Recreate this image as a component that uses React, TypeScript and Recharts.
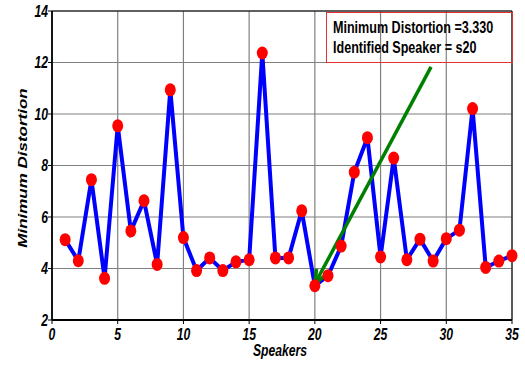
import { CartesianGrid, Label, Line, LineChart, ReferenceArea, ReferenceLine, XAxis, YAxis } from "recharts";

// speaker index and the minimum distortion measured against each model
const speakers = [1, 2, 3, 4, 5, 6, 7, 8, 9, 10, 11, 12, 13, 14, 15, 16, 17, 18, 19, 20, 21, 22, 23, 24, 25, 26, 27, 28, 29, 30, 31, 32, 33, 34, 35];
const distortion = [5.12, 4.3, 7.45, 3.62, 9.54, 5.46, 6.63, 4.16, 10.94, 5.2, 3.92, 4.41, 3.92, 4.26, 4.34, 12.37, 4.41, 4.41, 6.24, 3.33, 3.72, 4.87, 7.74, 9.08, 4.45, 8.29, 4.34, 5.14, 4.29, 5.16, 5.49, 10.21, 4.04, 4.29, 4.5];
const xTicks = [0, 5, 10, 15, 20, 25, 30, 35];
const yTicks = [2, 4, 6, 8, 10, 12, 14];
const minDistortion = "3.330";
const bestSpeaker = "s20";
// arrow runs from the note box down to the winning speaker
const arrowFrom = { x: 28.84, y: 11.83 };
const arrowTo = { x: 20, y: 3.4 };

const data = speakers.map((s, i) => ({ speaker: s, value: distortion[i] }));

const FONT = '"Liberation Sans", Arial, sans-serif';
// the original figure was squeezed sideways, so text is narrowed to match
const SQUEEZE = 0.76;
const boldItalic = { fontFamily: FONT, fontWeight: "bold", fontStyle: "italic", fill: "#000" } as const;

// eslint-disable-next-line @typescript-eslint/no-explicit-any
const XTick = (props: any) => {
  const { x, y, payload } = props;
  return (
    <text transform={`translate(${x},${y}) scale(${SQUEEZE},1)`} textAnchor="middle" dy={13.5} fontSize={16} style={boldItalic}>
      {payload.value}
    </text>
  );
};

// eslint-disable-next-line @typescript-eslint/no-explicit-any
const YTick = (props: any) => {
  const { x, y, payload } = props;
  return (
    <text transform={`translate(${x + 2},${y}) scale(${SQUEEZE},1)`} textAnchor="end" dy={5.8} fontSize={16} style={boldItalic}>
      {payload.value}
    </text>
  );
};

// eslint-disable-next-line @typescript-eslint/no-explicit-any
const RedDot = (props: any) => {
  const { cx, cy, index } = props;
  if (cx == null || cy == null) return <g key={index} />;
  return <ellipse key={index} cx={cx} cy={cy} rx={5.5} ry={6.5} fill="#ff0000" />;
};

// eslint-disable-next-line @typescript-eslint/no-explicit-any
const Arrow = (props: any) => {
  const { x1, y1, x2, y2 } = props;
  if (x1 == null) return <g />;
  const ang = Math.atan2(y2 - y1, x2 - x1);
  const len = 15;
  const spread = 0.38;
  const a1x = x2 - len * Math.cos(ang - spread);
  const a1y = y2 - len * Math.sin(ang - spread);
  const a2x = x2 - len * Math.cos(ang + spread);
  const a2y = y2 - len * Math.sin(ang + spread);
  return (
    <g>
      <line x1={x1} y1={y1} x2={x2} y2={y2} stroke="#008000" strokeWidth={3.5} />
      <polyline points={`${a1x},${a1y} ${x2},${y2} ${a2x},${a2y}`} fill="none" stroke="#008000" strokeWidth={3.5} />
    </g>
  );
};

const noteLine = {
  position: "absolute",
  left: 6,
  whiteSpace: "nowrap",
  transform: "scaleX(0.785)",
  transformOrigin: "0 0",
} as const;

export default function App() {
  return (
    <div style={{ position: "absolute", left: 0, top: 0, width: 525, height: 365, background: "#fff" }}>
      <LineChart width={525} height={365} data={data} margin={{ top: 11, right: 13, bottom: 15, left: 0 }}>
        <CartesianGrid stroke="#808080" strokeWidth={1.2} />
        <XAxis
          dataKey="speaker"
          type="number"
          domain={[0, 35]}
          ticks={xTicks}
          height={30}
          tickSize={4}
          tickLine={{ stroke: "#000" }}
          axisLine={{ stroke: "#000", strokeWidth: 2 }}
          tick={XTick}
          interval={0}
        >
          <Label
            content={() => (
              <text transform={`translate(280,356) scale(${SQUEEZE},1)`} textAnchor="middle" fontSize={16} style={boldItalic}>
                Speakers
              </text>
            )}
          />
        </XAxis>
        <YAxis
          type="number"
          domain={[2, 14]}
          ticks={yTicks}
          width={52}
          tickSize={4}
          tickLine={{ stroke: "#000" }}
          axisLine={{ stroke: "#000", strokeWidth: 1.5 }}
          tick={YTick}
          interval={0}
        >
          <Label
            content={() => (
              <text transform={`translate(27,168) rotate(-90) scale(1,${SQUEEZE})`} textAnchor="middle" fontSize={17} style={boldItalic}>
                Minimum Distortion
              </text>
            )}
          />
        </YAxis>
        <ReferenceArea x1={0} x2={35} y1={2} y2={14} fill="none" fillOpacity={0} stroke="#000" strokeWidth={1} />
        <Line
          type="linear"
          dataKey="value"
          stroke="#0000ff"
          strokeWidth={4}
          dot={RedDot}
          activeDot={false}
          isAnimationActive={false}
        />
        <ReferenceLine segment={[arrowFrom, arrowTo]} shape={Arrow} ifOverflow="visible" />
      </LineChart>
      <div
        style={{
          position: "absolute",
          left: 326,
          top: 12,
          width: 185,
          height: 49,
          border: "1px solid #e03030",
          fontFamily: FONT,
          fontWeight: "bold",
          fontSize: 16,
          lineHeight: "16px",
          color: "#000",
          boxSizing: "content-box",
        }}
      >
        <div style={{ ...noteLine, top: 7 }}>Minimum Distortion ={minDistortion}</div>
        <div style={{ ...noteLine, top: 26.5 }}>Identified Speaker = {bestSpeaker}</div>
      </div>
    </div>
  );
}
